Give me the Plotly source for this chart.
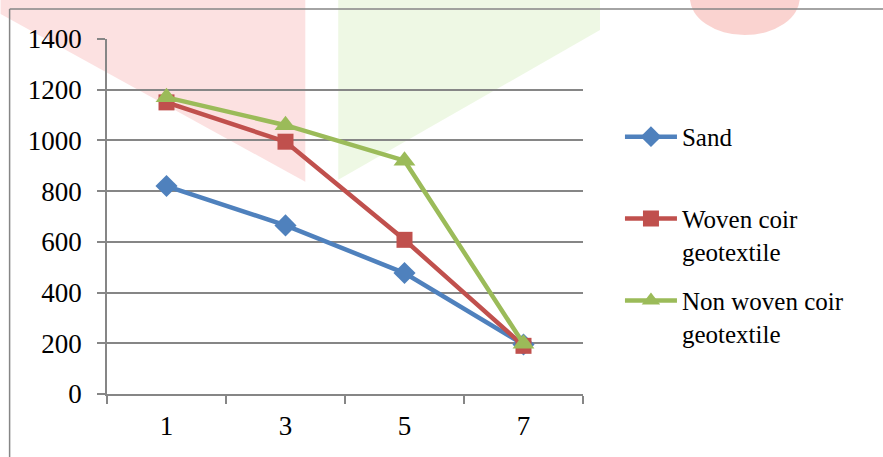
import plotly.graph_objects as go

# Layers (x) and measured values for each fill material
layers = ["1", "3", "5", "7"]
sand = [820, 665, 477, 195]
woven = [1150, 995, 608, 190]
non_woven = [1170, 1060, 920, 198]

y_ticks = [0, 200, 400, 600, 800, 1000, 1200, 1400]

BLUE = "#4F81BD"
RED = "#C0504D"
GREEN = "#9BBB59"
GRID = "#868686"
SERIF = "Liberation Serif"

W, H = 883, 457
L, R, T, B = 106.5, 300, 39, 62.5
PW, PH = W - L - R, H - T - B


def px(x):
    return (x - L) / PW


def py(y):
    return (H - B - y) / PH


fig = go.Figure()

fig.add_trace(go.Scatter(
    x=layers, y=sand, name="Sand", mode="lines+markers",
    line=dict(color=BLUE, width=4.5),
    marker=dict(symbol="diamond", size=17, color=BLUE),
    legend="legend", showlegend=True,
))
fig.add_trace(go.Scatter(
    x=layers, y=woven, name="Woven coir<br>geotextile", mode="lines+markers",
    line=dict(color=RED, width=4.5),
    marker=dict(symbol="square", size=16, color=RED),
    legend="legend2", showlegend=True,
))
fig.add_trace(go.Scatter(
    x=layers, y=non_woven, name="Non woven coir<br>geotextile", mode="lines+markers",
    line=dict(color=GREEN, width=4.5),
    marker=dict(symbol="triangle-up", size=19, color=GREEN),
    legend="legend3", showlegend=True,
))


def legend_at(y):
    return dict(
        x=px(620), y=py(y), xanchor="left", yanchor="top",
        font=dict(family=SERIF, size=25), bgcolor="rgba(0,0,0,0)",
        valign="top", itemwidth=52, tracegroupgap=0,
    )


# Faint background emblem
shapes = [
    dict(type="path", xref="paper", yref="paper", layer="below",
         path=f"M {px(0)},{py(14)} L {px(0)},{py(0)} L {px(305)},{py(0)} L {px(305)},{py(182)} Z",
         fillcolor="rgba(240,120,120,0.22)", line=dict(width=0)),
    dict(type="path", xref="paper", yref="paper", layer="below",
         path=f"M {px(338)},{py(0)} L {px(338)},{py(180)} L {px(600)},{py(30)} L {px(600)},{py(0)} Z",
         fillcolor="rgba(170,220,120,0.20)", line=dict(width=0)),
    dict(type="circle", xref="paper", yref="paper", layer="below",
         x0=px(690), x1=px(800), y0=py(35), y1=py(-40),
         fillcolor="rgba(240,110,100,0.30)", line=dict(width=0)),
    # chart frame
    dict(type="line", xref="paper", yref="paper",
         x0=px(9), x1=px(890), y0=py(9), y1=py(9),
         line=dict(color=GRID, width=1.5)),
    dict(type="line", xref="paper", yref="paper",
         x0=px(9), x1=px(9), y0=py(9), y1=py(465),
         line=dict(color=GRID, width=1.5)),
]

tick_font = dict(family=SERIF, size=27)

fig.update_layout(
    width=W, height=H,
    margin=dict(l=L, r=R, t=T, b=B, pad=0),
    paper_bgcolor="white",
    plot_bgcolor="rgba(0,0,0,0)",
    font=dict(family=SERIF, size=25, color="black"),
    showlegend=True,
    legend=legend_at(114),
    legend2=legend_at(196),
    legend3=legend_at(278),
    shapes=shapes,
    xaxis=dict(
        type="category", tickson="boundaries", ticks="outside",
        ticklen=8, tickcolor=GRID, tickwidth=1.5,
        showline=True, linecolor=GRID, linewidth=1.5,
        showgrid=False, zeroline=False, tickfont=tick_font,
        ticklabelstandoff=7, range=[-0.5, 3.5],
    ),
    yaxis=dict(
        range=[0, 1400], tickvals=y_ticks, ticks="outside",
        ticklen=8, tickcolor=GRID, tickwidth=1.5,
        showline=True, linecolor=GRID, linewidth=1.5,
        showgrid=True, gridcolor=GRID, gridwidth=1.5,
        zeroline=False, tickfont=tick_font, ticklabelstandoff=10,
    ),
)

fig.write_html("out.html")
